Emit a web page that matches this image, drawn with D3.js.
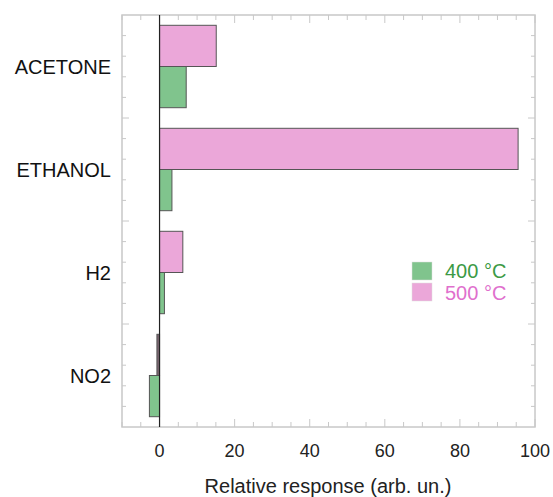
<!DOCTYPE html>
<html>
<head>
<meta charset="utf-8">
<script src="https://cdn.jsdelivr.net/npm/d3@7"></script>
<style>
  body { margin: 0; background: #fff; }
  text { font-family: "Liberation Sans", Arial, sans-serif; }
</style>
</head>
<body>
<div id="chart"></div>
<script>
// data
const gases = ['ACETONE', 'ETHANOL', 'H2', 'NO2']
const series = ['500 °C', '400 °C']
const values500 = [15.1, 95.5, 6.2, -0.7]
const values400 = [7.1, 3.3, 1.3, -2.7]
const xTicks = [0, 20, 40, 60, 80, 100]

const width = 553, height = 497
const margin = { top: 15, right: 18, bottom: 70, left: 122 }
const innerW = width - margin.left - margin.right
const innerH = height - margin.top - margin.bottom

const colors = { '500 °C': '#eba7d9', '400 °C': '#80c48d' }
const textColors = { '500 °C': '#e06fcd', '400 °C': '#3c9a45' }

const svg = d3.select('#chart').append('svg')
    .attr('width', width)
    .attr('height', height)

const g = svg.append('g')
    .attr('transform', `translate(${margin.left},${margin.top})`)

const x = d3.scaleLinear().domain([-10, 100]).range([0, innerW])
const y = d3.scaleBand().domain(gases).range([0, innerH]).paddingInner(0.2).paddingOuter(0.1)
const ySub = d3.scaleBand().domain(series).range([0, y.bandwidth()])

// frame
g.append('rect')
    .attr('width', innerW)
    .attr('height', innerH)
    .attr('fill', 'none')
    .attr('stroke', '#c8c8c8')
    .attr('stroke-width', 1.5)

// minor / major ticks on x (top and bottom, inward)
const minor = d3.range(-10, 101, 5)
const tickColor = '#c8c8c8'
g.selectAll('.xt-bottom')
    .data(minor)
    .join('line')
    .attr('x1', d => x(d)).attr('x2', d => x(d))
    .attr('y1', innerH).attr('y2', d => innerH - (d % 20 === 0 ? 8 : 5))
    .attr('stroke', tickColor)
g.selectAll('.xt-top')
    .data(minor)
    .join('line')
    .attr('x1', d => x(d)).attr('x2', d => x(d))
    .attr('y1', 0).attr('y2', d => (d % 20 === 0 ? 8 : 5))
    .attr('stroke', tickColor)

// y ticks, 5 per band
const step = innerH / 20
const yTicks = d3.range(1, 20)
g.selectAll('.yt-left')
    .data(yTicks)
    .join('line')
    .attr('y1', d => d * step).attr('y2', d => d * step)
    .attr('x1', 0).attr('x2', d => (d % 5 === 0 ? 7 : 4))
    .attr('stroke', tickColor)
g.selectAll('.yt-right')
    .data(yTicks)
    .join('line')
    .attr('y1', d => d * step).attr('y2', d => d * step)
    .attr('x1', innerW).attr('x2', d => innerW - (d % 5 === 0 ? 7 : 4))
    .attr('stroke', tickColor)

// bars
const rows = gases.map((gas, i) => ({ gas, vals: [
    { s: '500 °C', v: values500[i] },
    { s: '400 °C', v: values400[i] }
] }))

const groups = g.selectAll('.gas')
    .data(rows)
    .join('g')
    .attr('class', 'gas')
    .attr('transform', d => `translate(0,${y(d.gas)})`)

groups.selectAll('rect')
    .data(d => d.vals)
    .join('rect')
    .attr('x', d => x(Math.min(0, d.v)))
    .attr('width', d => Math.abs(x(d.v) - x(0)))
    .attr('y', d => ySub(d.s))
    .attr('height', ySub.bandwidth())
    .attr('fill', d => d.v < 0 && d.s === '500 °C' ? '#7a6670' : colors[d.s])
    .attr('stroke', '#555')
    .attr('stroke-width', 1)

// zero line
g.append('line')
    .attr('x1', x(0)).attr('x2', x(0))
    .attr('y1', 0).attr('y2', innerH)
    .attr('stroke', '#222')
    .attr('stroke-width', 1.2)

// category labels
g.selectAll('.cat')
    .data(gases)
    .join('text')
    .attr('x', -11)
    .attr('y', d => y(d) + y.bandwidth() / 2 + 7)
    .attr('text-anchor', 'end')
    .attr('font-size', 20)
    .attr('fill', '#111')
    .text(d => d)

// x tick labels
g.selectAll('.xl')
    .data(xTicks)
    .join('text')
    .attr('x', d => x(d))
    .attr('y', innerH + 30)
    .attr('text-anchor', 'middle')
    .attr('font-size', 18)
    .attr('fill', '#222')
    .text(d => d)

// axis title
svg.append('text')
    .attr('x', 328)
    .attr('y', 493)
    .attr('text-anchor', 'middle')
    .attr('font-size', 20)
    .attr('fill', '#222')
    .text('Relative response (arb. un.)')

// legend
const legend = svg.append('g').attr('transform', 'translate(412,262)')
const legendItems = ['400 °C', '500 °C']
legend.selectAll('rect')
    .data(legendItems)
    .join('rect')
    .attr('x', 0)
    .attr('y', (d, i) => i * 21)
    .attr('width', 20)
    .attr('height', 18)
    .attr('fill', d => colors[d])
    .attr('stroke', '#ddd')
    .attr('stroke-width', 0.5)
legend.selectAll('text')
    .data(legendItems)
    .join('text')
    .attr('x', 33)
    .attr('y', (d, i) => i * 22 + 16)
    .attr('font-size', 20)
    .attr('fill', d => textColors[d])
    .text(d => d)
</script>
</body>
</html>
